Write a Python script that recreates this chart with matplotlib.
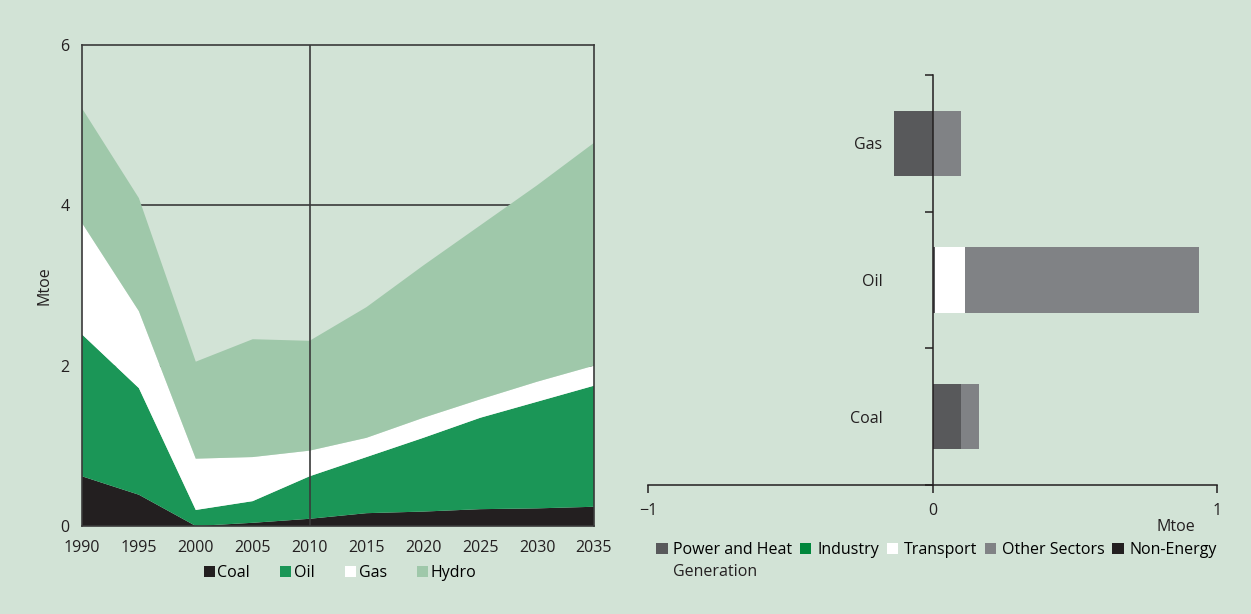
import matplotlib.pyplot as plt
from matplotlib.patches import Patch
import numpy as np

plt.rcParams['font.family'] = ['Open Sans', 'DejaVu Sans']
plt.rcParams['font.size'] = 11.5

# left chart: supply by fuel, Mtoe
years = [1990, 1995, 2000, 2005, 2010, 2015, 2020, 2025, 2030, 2035]
coal = [0.62, 0.39, 0.00, 0.04, 0.09, 0.16, 0.18, 0.21, 0.22, 0.24]
oil = [1.77, 1.33, 0.20, 0.27, 0.53, 0.70, 0.92, 1.14, 1.33, 1.51]
gas = [1.39, 0.96, 0.64, 0.55, 0.32, 0.24, 0.25, 0.23, 0.25, 0.25]
hydro = [1.43, 1.41, 1.21, 1.47, 1.37, 1.63, 1.90, 2.17, 2.45, 2.78]
fuel_names = ["Coal", "Oil", "Gas", "Hydro"]
fuel_colors = ["#231f20", "#1b9657", "#ffffff", "#9fc8aa"]

# right chart: change by sector, Mtoe
fuels = ["Coal", "Oil", "Gas"]
sectors = ["Power and Heat", "Industry", "Transport", "Other Sectors", "Non-Energy"]
power = [0.10, 0.01, -0.135]
industry = [0.0, 0.0, 0.0]
transport = [0.0, 0.105, 0.0]
other = [0.065, 0.82, 0.10]
non_energy = [0.0, 0.0, 0.0]
sector_colors = ["#58595b", "#00873c", "#ffffff", "#808285", "#231f20"]

bg = "#d2e3d6"
txt = "#231f20"
fig = plt.figure(figsize=(12.51, 6.14), dpi=100, facecolor=bg)

# ---- left: stacked area
ax = fig.add_axes([82/1251, 88/614, 512/1251, 481/614])
ax.set_facecolor(bg)
for yv in [2, 4]:
    ax.axhline(yv, color="#3a3a3a", lw=1.2, zorder=0.5)
ax.stackplot(years, coal, oil, gas, hydro, colors=fuel_colors, lw=0, zorder=1)
ax.axvline(2010, color="#3a3a3a", lw=1.2, zorder=3)
ax.set_xlim(1990, 2035)
ax.set_ylim(0, 6)
ax.set_xticks(years)
ax.set_yticks([0, 2, 4, 6])
ax.tick_params(axis="y", length=0, pad=9, labelcolor=txt)
ax.tick_params(axis="x", length=0, pad=10, labelcolor=txt)
for s in ax.spines.values():
    s.set_color("#3a3a3a")
    s.set_linewidth(1.2)
    s.set_zorder(4)
ax.set_ylabel("Mtoe", labelpad=6, color=txt)

handles = [Patch(facecolor=c, edgecolor="none") for c in fuel_colors]
fig.legend(handles, fuel_names, loc="center", bbox_to_anchor=(340/1251, 41/614),
           ncol=4, frameon=False, handlelength=0.7, handleheight=0.7,
           handletextpad=0.15, columnspacing=1.9, fontsize=11.5)

# ---- right: stacked horizontal bars
ax2 = fig.add_axes([648/1251, 129/614, 569/1251, 410/614])
ax2.set_facecolor(bg)
y = np.arange(len(fuels))
pos = np.zeros(len(fuels))
neg = np.zeros(len(fuels))
for vals, col in zip([power, industry, transport, other, non_energy], sector_colors):
    vals = np.array(vals)
    left = np.where(vals >= 0, pos, neg)
    ax2.barh(y, vals, left=left, height=0.48, color=col, lw=0, zorder=2)
    pos = pos + np.clip(vals, 0, None)
    neg = neg + np.clip(vals, None, 0)

ax2.set_xlim(-1, 1)
ax2.set_ylim(-0.5, 2.5)
ax2.spines["top"].set_visible(False)
ax2.spines["right"].set_visible(False)
ax2.spines["left"].set_position(("data", 0))
for s in ["left", "bottom"]:
    ax2.spines[s].set_color(txt)
    ax2.spines[s].set_linewidth(1.1)
    ax2.spines[s].set_zorder(3)
ax2.set_xticks([-1, 0, 1])
ax2.set_xticklabels(["\u22121", "0", "1"])
ax2.tick_params(axis="x", length=6, width=1.1, color=txt, pad=7, labelcolor=txt)
ax2.set_yticks(y)
ax2.set_yticklabels(fuels)
ax2.tick_params(axis="y", which="major", length=0, pad=36, labelcolor=txt)
ax2.set_yticks([-0.5, 0.5, 1.5, 2.5], minor=True)
ax2.tick_params(axis="y", which="minor", length=6, width=1.1, color=txt)
fig.text(1176/1251, 1 - 527/614, "Mtoe", ha="center", va="center", fontsize=11.5, color=txt)

handles2 = [Patch(facecolor=c, edgecolor="none") for c in sector_colors]
fig.legend(handles2, sectors, loc="center left", bbox_to_anchor=(642/1251, 1 - 550/614),
           ncol=5, frameon=False, handlelength=0.7, handleheight=0.7,
           handletextpad=0.35, columnspacing=0.5, fontsize=11.5)
fig.text(673/1251, 1 - 572/614, "Generation", ha="left", va="center", fontsize=11.5, color=txt)

fig.savefig("out.png", dpi=100, facecolor=bg)
